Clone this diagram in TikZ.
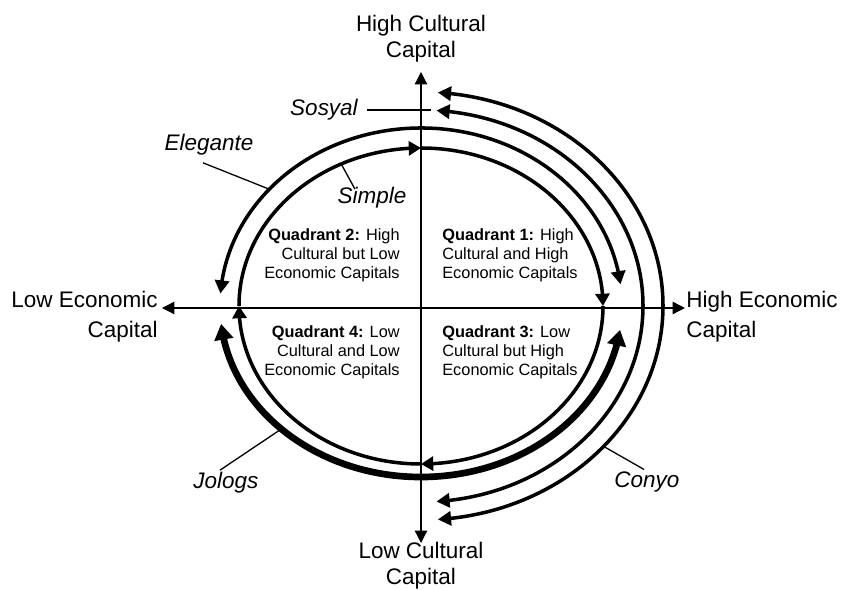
\documentclass[tikz,border=0pt]{standalone}
\usepackage{fontspec}
\setmainfont{Liberation Sans}
\usetikzlibrary{arrows.meta,bending}

\tikzset{
	axisline/.style={line width=0.75pt,{Triangle[length=7pt,width=7pt]}-{Triangle[length=7pt,width=7pt]}},
	ringline/.style={line width=2pt},
	headend/.style={-{Triangle[length=7pt,width=8pt]}},
	headboth/.style={{Triangle[length=7.5pt,width=8pt]}-{Triangle[length=7.5pt,width=8pt]}},
	heavyline/.style={line width=3.8pt,{Triangle[length=9pt,width=10.5pt]}-{Triangle[length=9pt,width=10.5pt]}},
	leader/.style={line width=0.75pt},
}

\begin{document}
\begin{tikzpicture}[x=0.02cm,y=0.02cm]

	\useasboundingbox (-421,-284) rectangle (421,306);

	\coordinate (top_end) at (0,234);
	\coordinate (bot_end) at (0,-237);
	\coordinate (left_end) at (-259,-2);
	\coordinate (right_end) at (264,-2);

	\coordinate (c_top) at (86:222 and 196);
	\coordinate (a_hit) at (116:182 and 158);
	\coordinate (b_hit) at (139:201 and 178);
	\coordinate (j_hit) at (226:201 and 171);
	\coordinate (d_hit) at (-41:242 and 214);

	% rings
	\foreach \a in {180,90,0,-90}
		\draw[ringline,headend] (\a:182 and 158) arc[start angle=\a,delta angle=-90,x radius=182,y radius=158];
	\draw[ringline,headboth] (7:201 and 178) arc[start angle=7,end angle=176,x radius=201,y radius=178];
	\draw[heavyline] (186:201 and 171) arc[start angle=186,end angle=352,x radius=201,y radius=171];
	\draw[ringline,headboth] (86:222 and 196) arc[start angle=86,end angle=-86,x radius=222,y radius=196];
	\draw[ringline,headboth] (86:242 and 214) arc[start angle=86,end angle=-86,x radius=242,y radius=214];

	\draw[axisline] (top_end) -- (bot_end);
	\draw[axisline] (left_end) -- (right_end);

	\begin{scope}[every node/.style={inner sep=0pt,font=\fontsize{12.8}{14.8}\selectfont,align=center}]
		\node (high_cult) at (0,267) {High Cultural\\Capital};
		\node (low_cult) at (0,-260) {Low Cultural\\Capital};
	\end{scope}

	\begin{scope}[every node/.style={inner sep=0pt,font=\fontsize{12.8}{17}\selectfont}]
		\node[align=right] (low_econ) at (-263,-11) [left] {Low Economic\\Capital};
		\node[align=left] (high_econ) at (265,-11) [right] {High Economic\\Capital};
	\end{scope}

	\begin{scope}[every node/.style={inner sep=0pt,font=\fontsize{9.3}{10.8}\selectfont}]
		\node[align=left] (quad_1) at (21,51) [right] {\textbf{Quadrant 1:} High\\Cultural and High\\Economic Capitals};
		\node[align=right] (quad_2) at (-21,51) [left] {\textbf{Quadrant 2:} High\\Cultural but Low\\Economic Capitals};
		\node[align=left] (quad_3) at (21,-46) [right] {\textbf{Quadrant 3:} Low\\Cultural but High\\Economic Capitals};
		\node[align=right] (quad_4) at (-21,-46) [left] {\textbf{Quadrant 4:} Low\\Cultural and Low\\Economic Capitals};
	\end{scope}

	\begin{scope}[every node/.style={inner sep=0pt,font=\fontsize{12.8}{15}\selectfont\itshape}]
		\node (sosyal) at (-97,196) {Sosyal};
		\node (elegante) at (-212,161) {Elegante};
		\node (simple) at (-49,108) {Simple};
		\node (jologs) at (-195,-177) {Jologs};
		\node (conyo) at (226,-176) {Conyo};
	\end{scope}

	\draw[leader,shorten >=3pt] ([xshift=5pt]sosyal.east) -- (sosyal.east -| c_top);
	\draw[leader] ([shift={(-6,-7)}]elegante.south) -- (b_hit);
	\draw[leader] ([shift={(-17,-2)}]simple.north) -- (a_hit);
	\draw[leader] ([shift={(-6,2)}]jologs.north) -- (j_hit);
	\draw[leader] ([shift={(-3,2)}]conyo.north) -- (d_hit);

\end{tikzpicture}
\end{document}
